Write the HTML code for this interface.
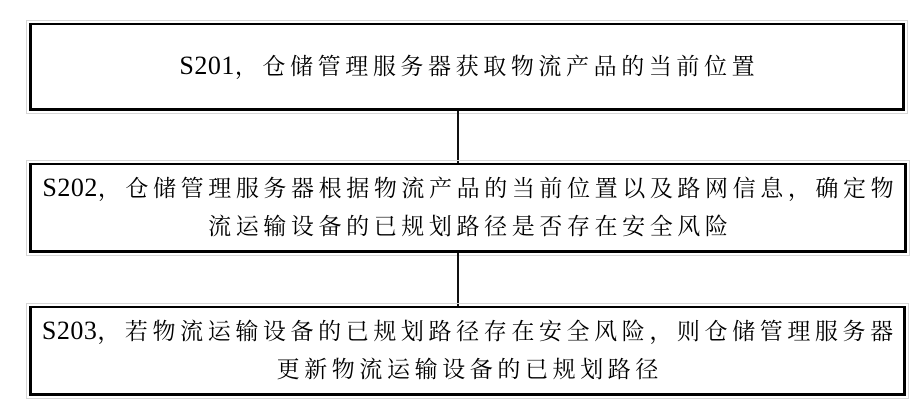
<!DOCTYPE html>
<html>
<head>
<meta charset="utf-8">
<style>
  html, body { margin:0; padding:0; background:#fff; }
  body { width:922px; height:418px; position:relative; overflow:hidden; }
  .box {
    position:absolute; box-sizing:border-box;
    border:3px solid #000; border-top-width:2px;
    display:flex; flex-direction:column; align-items:center; justify-content:center;
    text-align:center;
    outline:1px solid #d6d6d6; outline-offset:2px;
  }
  .t {
    font-family:"Liberation Serif","Noto Serif CJK SC","Noto Sans CJK SC",serif;
    font-size:23px; letter-spacing:4.6px; line-height:38px;
    color:#000; white-space:nowrap; padding-left:4.6px;
  }
  .s { font-family:"Liberation Serif",serif; font-size:26px; letter-spacing:0.5px; }
  .v { position:absolute; width:2px; background:#111; left:457px; }
</style>
</head>
<body>
  <div class="box" style="left:29px; top:23px; width:876px; height:88px;">
    <div class="t"><span class="s">S201</span>，仓储管理服务器获取物流产品的当前位置</div>
  </div>
  <div class="v" style="top:111px; height:52px;"></div>
  <div class="box" style="left:29px; top:163px; width:878px; height:90px;">
    <div class="t"><span class="s">S202</span>，仓储管理服务器根据物流产品的当前位置以及路网信息，确定物</div>
    <div class="t">流运输设备的已规划路径是否存在安全风险</div>
  </div>
  <div class="v" style="top:253px; height:53px;"></div>
  <div class="box" style="left:29px; top:306px; width:877px; height:90px;">
    <div class="t"><span class="s">S203</span>，若物流运输设备的已规划路径存在安全风险，则仓储管理服务器</div>
    <div class="t">更新物流运输设备的已规划路径</div>
  </div>
</body>
</html>
